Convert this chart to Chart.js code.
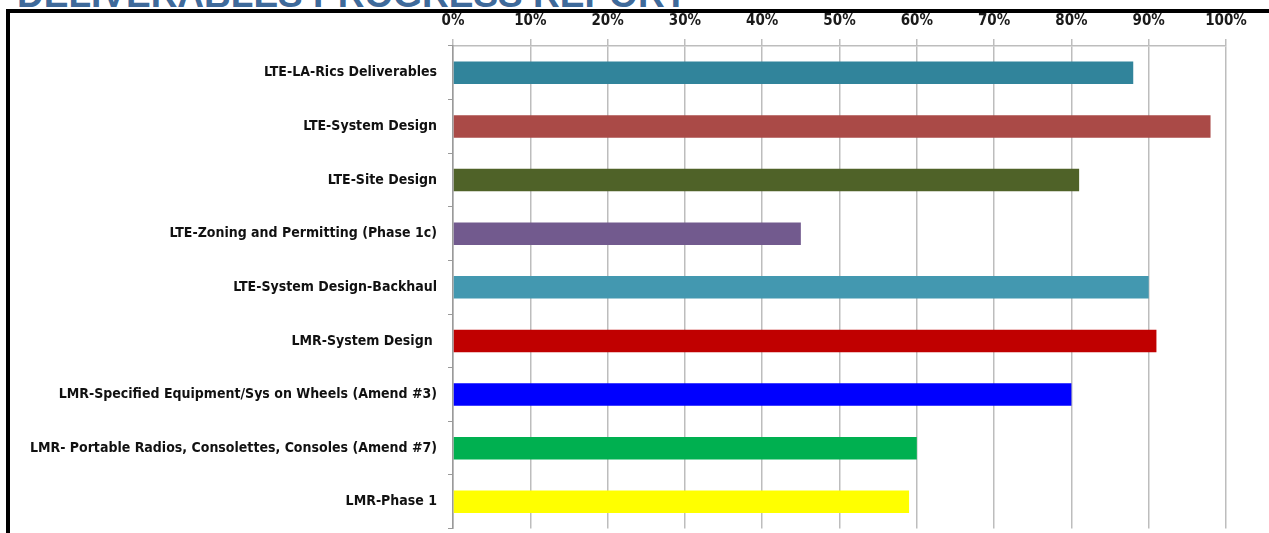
<!DOCTYPE html>
<html>
<head>
<meta charset="utf-8">
<script src="https://cdn.jsdelivr.net/npm/chart.js@4.4.0/dist/chart.umd.min.js"></script>
<style>
  html, body { margin:0; padding:0; background:#fff; overflow:hidden; }
  #title {
    position:absolute; left:17px; top:-26px;
    font-family:"Liberation Sans", Arial, sans-serif; font-weight:bold;
    font-size:37px; color:#3f6a9a; white-space:nowrap;
  }
  #frame {
    position:absolute; left:6px; top:9px; width:1400px; height:600px;
    border-left:4px solid #000; border-top:4px solid #000;
  }
  #wrap { position:absolute; left:0; top:0; width:1269px; height:548px; }
</style>
</head>
<body>
<div id="title">DELIVERABLES PROGRESS REPORT</div>
<div id="frame"></div>
<div id="wrap"><canvas id="chart"></canvas></div>
<script>
//======================================
// Data
//======================================

const categories = [
  "LTE-LA-Rics Deliverables",
  "LTE-System Design",
  "LTE-Site Design",
  "LTE-Zoning and Permitting (Phase 1c)",
  "LTE-System Design-Backhaul",
  "LMR-System Design ",
  "LMR-Specified Equipment/Sys on Wheels (Amend #3)",
  "LMR- Portable Radios, Consolettes, Consoles (Amend #7)",
  "LMR-Phase 1"
];

const progress = [88, 98, 81, 45, 90, 91, 80, 60, 59];

const barColors = [
  "#31849b", "#aa4a47", "#4f6228", "#725a8e", "#4398b0",
  "#c00000", "#0000ff", "#00b050", "#ffff00"
];

const tickValues = [0, 10, 20, 30, 40, 50, 60, 70, 80, 90, 100];

//======================================
// Chart
//======================================

const labelFont = {
  family: "'Liberation Sans Narrow', 'DejaVu Sans Condensed', sans-serif",
  size: 14,
  weight: "bold"
};

new Chart(document.getElementById("chart"), {
  type: "bar",
  data: {
    labels: categories,
    datasets: [{
      data: progress,
      backgroundColor: barColors,
      borderWidth: 0,
      categoryPercentage: 1,
      barPercentage: 0.42
    }]
  },
  options: {
    indexAxis: "y",
    responsive: true,
    maintainAspectRatio: false,
    animation: false,
    layout: { padding: { left: 0, right: 43, top: 0, bottom: 5 } },
    plugins: {
      legend: { display: false },
      tooltip: { enabled: false }
    },
    scales: {
      x: {
        position: "top",
        min: 0,
        max: 100,
        afterFit: (scale) => { scale.height = 46; },
        afterBuildTicks: (scale) => {
          scale.ticks = tickValues.map(v => ({ value: v }));
        },
        grid: {
          color: "#bdbdbd",
          lineWidth: 1.5,
          tickLength: 7
        },
        border: { color: "#bdbdbd", width: 1.5 },
        ticks: {
          color: "#1a1a1a",
          font: { family: labelFont.family, size: 15, weight: "bold" },
          padding: 9,
          callback: (v) => v + "%"
        }
      },
      y: {
        afterFit: (scale) => { scale.width = 453; },
        grid: {
          drawOnChartArea: false,
          color: "#9a9a9a",
          tickLength: 5
        },
        border: { color: "#9a9a9a", width: 1.5 },
        ticks: {
          color: "#111",
          font: labelFont,
          padding: 11
        }
      }
    }
  }
});
</script>
</body>
</html>
